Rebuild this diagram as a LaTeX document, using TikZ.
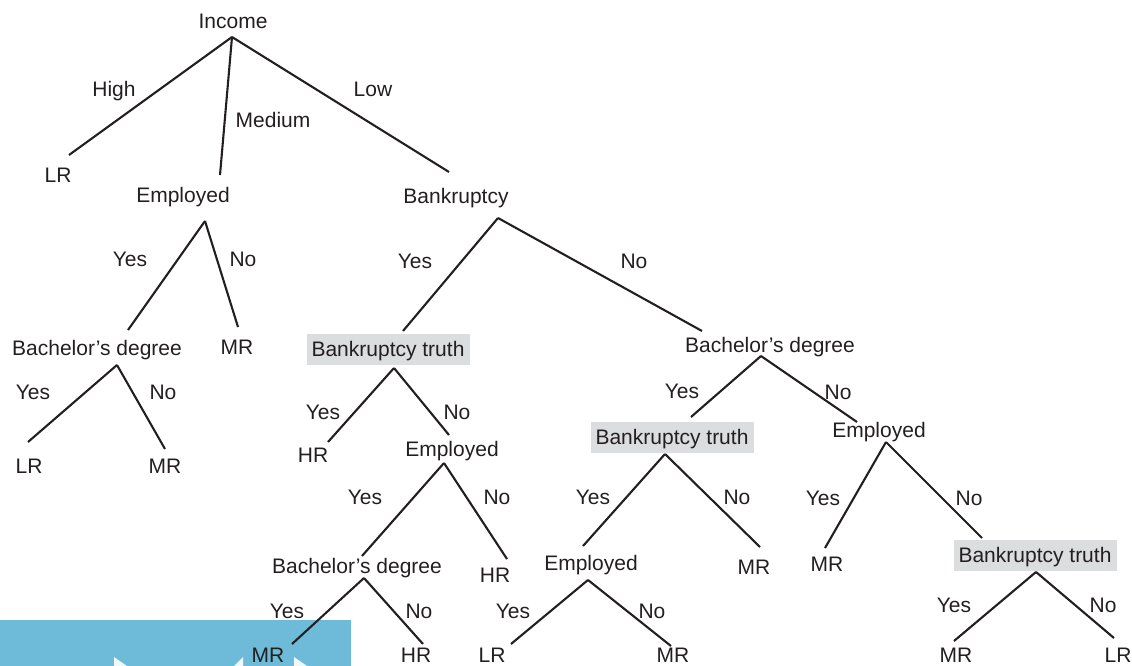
\documentclass[tikz,border=0pt]{standalone}
\usepackage{fontspec}
\setmainfont{Liberation Sans}
\definecolor{ink}{HTML}{231F20}
\definecolor{truthgray}{HTML}{DCDDDE}
\definecolor{panelblue}{HTML}{6EBAD9}
\begin{document}
\begin{tikzpicture}[x=1pt,y=-1pt,
  lbl/.style={font=\fontsize{21}{25}\selectfont, text=ink, inner sep=0pt,
              text height=15pt, text depth=0pt},
  truth/.style={lbl, fill=truthgray, minimum width=163pt, minimum height=31pt},
  branch/.style={draw=ink, line width=2.1pt}]
\useasboundingbox (0,0) rectangle (1132,666);

% player panel in the lower left corner
\fill[panelblue] (0,620) rectangle (351,666);
\fill[white, opacity=0.9] (114,657) -- (127,666) -- (114,666) -- cycle;
\fill[white, opacity=0.9] (243,657) -- (243,666) -- (234,666) -- cycle;
\fill[white, opacity=0.9] (294,657) -- (307,666) -- (294,666) -- cycle;

% ---- decision nodes and outcomes ----
\node[lbl] (income) at (233,21) {Income};
\node[lbl] (lrA)  at (58,175)  {LR};
\node[lbl] (emp1) at (183,195) {Employed};
\node[lbl] (bank) at (456,196) {Bankruptcy};

\node[lbl] (bd1) at (97,348) {Bachelor’s degree};
\node[lbl] (mrA) at (237,347) {MR};
\node[lbl] (lrB) at (29,466)  {LR};
\node[lbl] (mrB) at (165,466) {MR};

\node[truth] (bt1) at (388,349) {Bankruptcy truth};
\node[lbl] (hrA)  at (313,455) {HR};
\node[lbl] (emp2) at (452,449) {Employed};
\node[lbl] (bd2)  at (357,566) {Bachelor’s degree};
\node[lbl] (hrB)  at (495,575) {HR};
\node[lbl] (mrC)  at (268,655) {MR};
\node[lbl] (hrC)  at (416,655) {HR};

\node[lbl] (bd3) at (770,345) {Bachelor’s degree};
\node[truth] (bt2) at (672,437) {Bankruptcy truth};
\node[lbl] (emp3) at (879,430) {Employed};
\node[lbl] (emp4) at (591,563) {Employed};
\node[lbl] (mrD)  at (754,567) {MR};
\node[lbl] (lrC)  at (492,655) {LR};
\node[lbl] (mrE)  at (673,655) {MR};
\node[lbl] (mrF)  at (827,564) {MR};
\node[truth] (bt3) at (1035,555) {Bankruptcy truth};
\node[lbl] (mrG)  at (956,655) {MR};
\node[lbl] (lrD)  at (1118,655) {LR};

% ---- branch labels ----
\node[lbl] (tHigh) at (114,89)  {High};
\node[lbl] (tMed)  at (273,120) {Medium};
\node[lbl] (tLow)  at (373,89)  {Low};
\node[lbl] (y1) at (130,259) {Yes};  \node[lbl] (n1) at (243,259) {No};
\node[lbl] (y2) at (415,261) {Yes};  \node[lbl] (n2) at (634,261) {No};
\node[lbl] (y3) at (33,392)  {Yes};  \node[lbl] (n3) at (163,392) {No};
\node[lbl] (y4) at (323,412) {Yes};  \node[lbl] (n4) at (457,412) {No};
\node[lbl] (y5) at (365,497) {Yes};  \node[lbl] (n5) at (497,497) {No};
\node[lbl] (y6) at (287,611) {Yes};  \node[lbl] (n6) at (419,611) {No};
\node[lbl] (y7) at (682,391) {Yes};  \node[lbl] (n7) at (838,392) {No};
\node[lbl] (y8) at (593,497) {Yes};  \node[lbl] (n8) at (737,497) {No};
\node[lbl] (y9) at (513,611) {Yes};  \node[lbl] (n9) at (652,611) {No};
\node[lbl] (y10) at (823,498) {Yes}; \node[lbl] (n10) at (969,498) {No};
\node[lbl] (y11) at (954,605) {Yes}; \node[lbl] (n11) at (1103,605) {No};

% ---- branch attachment points ----
\coordinate (income-o) at (232,37);
\coordinate (lrA-i)  at (69,155);
\coordinate (emp1-i) at (220,175);
\coordinate (bank-i) at (449,172);
\coordinate (emp1-o) at (205,221);
\coordinate (bd1-i)  at (128,330);
\coordinate (mrA-i)  at (238,327);
\coordinate (bank-o) at (498,218);
\coordinate (bt1-i)  at (403,331);
\coordinate (bd3-i)  at (702,331);
\coordinate (bd1-o)  at (117,365);
\coordinate (lrB-i)  at (28,442);
\coordinate (mrB-i)  at (165,449);
\coordinate (bt1-o)  at (394,368);
\coordinate (hrA-i)  at (328,442);
\coordinate (emp2-i) at (449,435);
\coordinate (emp2-o) at (444,463);
\coordinate (bd2-i)  at (362,556);
\coordinate (hrB-i)  at (507,559);
\coordinate (bd2-o)  at (364,578);
\coordinate (mrC-i)  at (292,644);
\coordinate (hrC-i)  at (423,644);
\coordinate (bd3-o)  at (761,356);
\coordinate (bt2-i)  at (691,417);
\coordinate (emp3-i) at (857,422);
\coordinate (bt2-o)  at (665,454);
\coordinate (emp4-i) at (583,546);
\coordinate (mrD-i)  at (760,547);
\coordinate (emp4-o) at (588,580);
\coordinate (lrC-i)  at (511,644);
\coordinate (mrE-i)  at (671,646);
\coordinate (emp3-o) at (886,442);
\coordinate (mrF-i)  at (825,548);
\coordinate (bt3-i)  at (982,538);
\coordinate (bt3-o)  at (1036,572);
\coordinate (mrG-i)  at (954,641);
\coordinate (lrD-i)  at (1114,638);

% ---- branches ----
\foreach \a/\b in {income-o/lrA-i, income-o/emp1-i, income-o/bank-i,
                   emp1-o/bd1-i, emp1-o/mrA-i,
                   bank-o/bt1-i, bank-o/bd3-i,
                   bd1-o/lrB-i, bd1-o/mrB-i,
                   bt1-o/hrA-i, bt1-o/emp2-i,
                   emp2-o/bd2-i, emp2-o/hrB-i,
                   bd2-o/mrC-i, bd2-o/hrC-i,
                   bd3-o/bt2-i, bd3-o/emp3-i,
                   bt2-o/emp4-i, bt2-o/mrD-i,
                   emp4-o/lrC-i, emp4-o/mrE-i,
                   emp3-o/mrF-i, emp3-o/bt3-i,
                   bt3-o/mrG-i, bt3-o/lrD-i}
  \draw[branch] (\a) -- (\b);
\end{tikzpicture}
\end{document}
